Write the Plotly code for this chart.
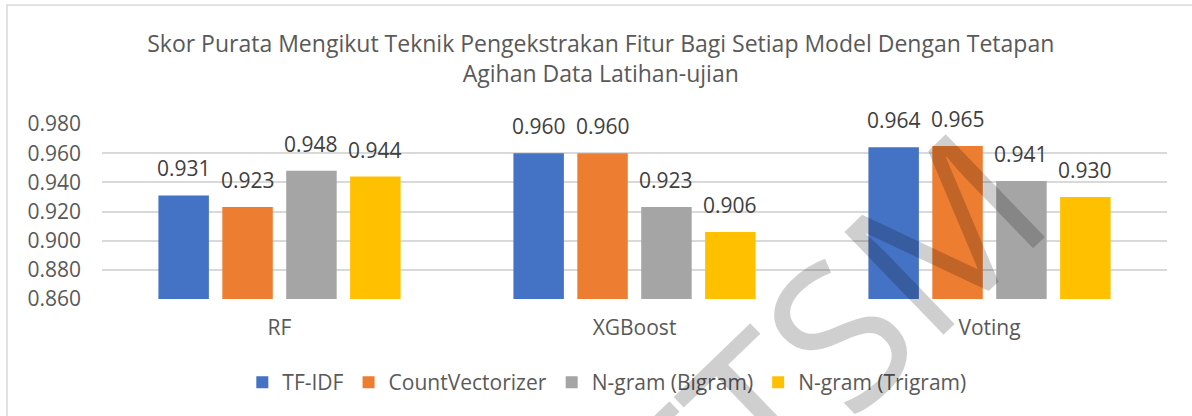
import plotly.graph_objects as go

categories = ["RF", "XGBoost", "Voting"]
series_names = ["TF-IDF", "CountVectorizer", "N-gram (Bigram)", "N-gram (Trigram)"]
tfidf = [0.931, 0.960, 0.964]
countvec = [0.923, 0.960, 0.965]
bigram = [0.948, 0.923, 0.941]
trigram = [0.944, 0.906, 0.930]
colors = ["#4472C4", "#ED7D31", "#A5A5A5", "#FFC000"]
y_ticks = [0.86, 0.88, 0.90, 0.92, 0.94, 0.96, 0.98]
title_text = ("Skor Purata Mengikut Teknik Pengekstrakan Fitur Bagi Setiap Model Dengan Tetapan"
              "<br>Agihan Data Latihan-ujian")
watermark = "FTSM"

series = [tfidf, countvec, bigram, trigram]
FONT = "Open Sans"
TXT = "#595959"
BARGAP = 0.28
GROUPGAP = 0.21

fig = go.Figure()
for name, vals, col in zip(series_names, series, colors):
    fig.add_trace(go.Bar(name=name, x=categories, y=vals, marker=dict(color=col, line=dict(width=0)),
                         hoverinfo="y"))

# data labels, positioned on a numeric overlay axis aligned with the category slots
n = len(series)
slot = (1 - BARGAP) / n
for j, vals in enumerate(series):
    for i, v in enumerate(vals):
        fig.add_annotation(x=i + (j - (n - 1) / 2) * slot, y=v, xref="x2", yref="y",
                           text=f"{v:.3f}", showarrow=False, xanchor="center", yanchor="bottom",
                           yshift=11, font=dict(family=FONT, size=21, color="#404040"))

fig.add_trace(go.Scatter(x=[0, len(categories) - 1], y=[None, None], xaxis="x2", showlegend=False,
                         hoverinfo="skip"))

fig.add_annotation(text=watermark, x=0.678, y=-0.25, xref="paper", yref="paper", showarrow=False,
                   xanchor="center", yanchor="middle", textangle=-44,
                   font=dict(family=FONT, size=200, color="rgba(0,0,0,0.19)"))

fig.update_layout(
    width=1192, height=416,
    margin=dict(l=102, r=25, t=124, b=117),
    paper_bgcolor="white", plot_bgcolor="white",
    barmode="group", bargap=BARGAP, bargroupgap=GROUPGAP,
    title=dict(text=title_text, x=0.504, xanchor="center", y=0.875, yanchor="top",
               font=dict(family=FONT, size=23, color=TXT)),
    font=dict(family=FONT, color=TXT),
    xaxis=dict(showgrid=False, showline=False, zeroline=False, ticks="",
               tickfont=dict(family=FONT, size=21, color=TXT), ticklabelstandoff=14),
    xaxis2=dict(overlaying="x", range=[-0.5, len(categories) - 0.5], visible=False),
    yaxis=dict(range=[0.86, 0.98], tickvals=y_ticks, tickformat=".3f", showgrid=True,
               gridcolor="#D9D9D9", gridwidth=1.5, zeroline=False, showline=False, ticks="",
               tickfont=dict(family=FONT, size=21, color=TXT), ticklabelstandoff=20),
    legend=dict(orientation="h", x=0.474, xanchor="center", y=-0.36, yanchor="top",
                font=dict(family=FONT, size=21, color=TXT), itemclick=False, traceorder="normal"),
    shapes=[dict(type="rect", xref="paper", yref="paper", x0=-0.0892, x1=1.03, y0=-1.2, y1=1.68,
                 line=dict(color="#D9D9D9", width=1.5), fillcolor="rgba(0,0,0,0)", layer="below")],
)

fig.write_html("out.html", config={"displayModeBar": False},
               post_script="document.body.style.margin='0px';")
